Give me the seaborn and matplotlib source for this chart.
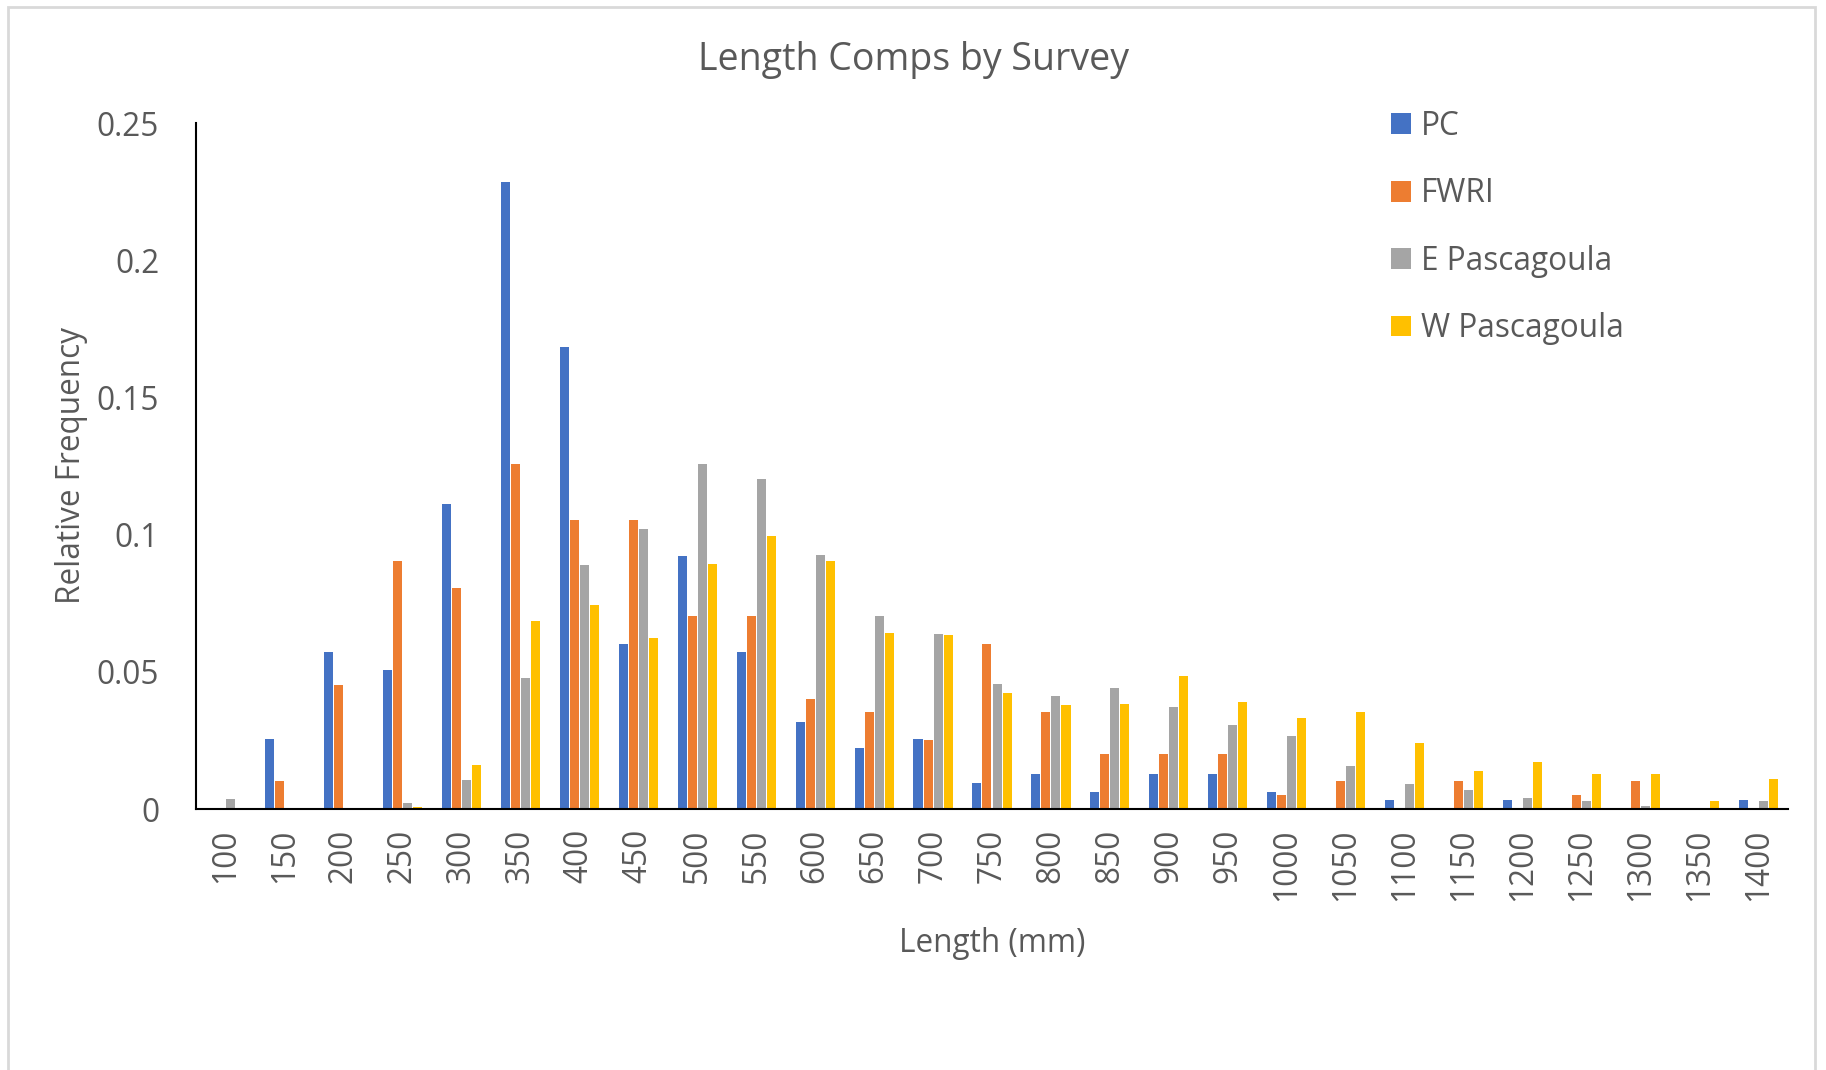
import matplotlib
matplotlib.use("Agg")
import matplotlib.pyplot as plt
from matplotlib.patches import Rectangle
import pandas as pd
import seaborn as sns

# Length bins (mm)
lengths = ["100", "150", "200", "250", "300", "350", "400", "450", "500",
           "550", "600", "650", "700", "750", "800", "850", "900", "950",
           "1000", "1050", "1100", "1150", "1200", "1250", "1300", "1350", "1400"]

# Relative frequency per survey
pc = [0.0, 0.0254, 0.0571, 0.0508, 0.1111, 0.2286, 0.1683, 0.0603, 0.0921,
      0.0571, 0.0317, 0.0222, 0.0254, 0.0095, 0.0127, 0.0063, 0.0127, 0.0127,
      0.0063, 0.0, 0.0032, 0.0, 0.0032, 0.0, 0.0, 0.0, 0.0032]
fwri = [0.0, 0.0101, 0.0452, 0.0905, 0.0804, 0.1256, 0.1055, 0.1055, 0.0704,
        0.0704, 0.0402, 0.0352, 0.0251, 0.0603, 0.0352, 0.0201, 0.0201, 0.0201,
        0.0050, 0.0101, 0.0, 0.0101, 0.0, 0.0050, 0.0101, 0.0, 0.0]
e_pascagoula = [0.0037, 0.0, 0.0, 0.0022, 0.0105, 0.0479, 0.0890, 0.1020, 0.1258,
                0.1203, 0.0927, 0.0703, 0.0639, 0.0457, 0.0413, 0.0442, 0.0372,
                0.0306, 0.0265, 0.0157, 0.0091, 0.0068, 0.0039, 0.0030, 0.0011,
                0.0, 0.0030]
w_pascagoula = [0.0, 0.0, 0.0, 0.0008, 0.0162, 0.0684, 0.0745, 0.0622, 0.0894,
                0.0996, 0.0904, 0.0643, 0.0634, 0.0422, 0.0380, 0.0382, 0.0484,
                0.0390, 0.0331, 0.0352, 0.0241, 0.0138, 0.0170, 0.0129, 0.0129,
                0.0030, 0.0109]

surveys = ["PC", "FWRI", "E Pascagoula", "W Pascagoula"]
colors = ["#4472C4", "#ED7D31", "#A5A5A5", "#FFC000"]
yticks = [0, 0.05, 0.1, 0.15, 0.2, 0.25]
ytick_labels = ["0", "0.05", "0.1", "0.15", "0.2", "0.25"]

frames = []
for name, vals in zip(surveys, [pc, fwri, e_pascagoula, w_pascagoula]):
    frames.append(pd.DataFrame({"Length": lengths, "Freq": vals, "Survey": name}))
df = pd.concat(frames, ignore_index=True)

sns.set_theme(style="white")
plt.rcParams["font.family"] = ["Open Sans", "DejaVu Sans"]
TXT = "#595959"
FS = 22.7

W, H = 1826, 1070
fig = plt.figure(figsize=(W / 100, H / 100), dpi=100)
ax = fig.add_axes([196 / W, 1 - 809 / H, (1788 - 196) / W, (809 - 123) / H])

sns.barplot(data=df, x="Length", y="Freq", hue="Survey", order=lengths,
            hue_order=surveys, palette=colors, width=0.68, gap=0.1,
            errorbar=None, linewidth=0, saturation=1, ax=ax)

ax.set_xlim(-0.5, len(lengths) - 0.5)
ax.set_ylim(0, 0.25)
ax.set_yticks(yticks)
ax.set_yticklabels(ytick_labels)
ax.tick_params(axis="y", length=0, pad=26.5, labelsize=FS, labelcolor=TXT)
ax.tick_params(axis="x", length=0, pad=14, labelsize=FS, labelcolor=TXT,
               labelrotation=90)

for side in ["top", "right"]:
    ax.spines[side].set_visible(False)
for side in ["left", "bottom"]:
    ax.spines[side].set_color("black")
    ax.spines[side].set_linewidth(1.5)

ax.set_xlabel("Length (mm)", fontsize=FS, color=TXT, va="center")
ax.xaxis.set_label_coords(0.5, (809 - 943) / 686)
ax.set_ylabel("Relative Frequency", fontsize=FS, color=TXT, va="center")
ax.yaxis.set_label_coords((71 - 196) / 1592, 0.5)
ax.set_title("Length Comps by Survey", fontsize=27, color=TXT,
             x=(913 - 196) / 1592, y=(809 - 68) / 686, va="center")

handles, labels = ax.get_legend_handles_labels()
ax.legend(handles, labels, loc="upper left",
          bbox_to_anchor=(1391 / W, 1 - 110 / H), bbox_transform=fig.transFigure,
          frameon=False, fontsize=FS, labelcolor=TXT, borderpad=0,
          handlelength=0.64, handleheight=0.64, handletextpad=0.32,
          labelspacing=1.09, borderaxespad=0)

# light chart-area border
fig.add_artist(Rectangle((8 / W, -0.05), (1815 - 8) / W, 1 - 7 / H + 0.05,
                         transform=fig.transFigure, fill=False,
                         edgecolor="#D9D9D9", linewidth=2, clip_on=False))

fig.savefig("out.png", dpi=100, facecolor="white")
